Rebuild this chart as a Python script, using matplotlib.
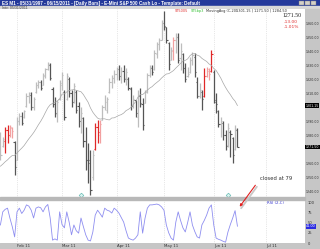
import matplotlib
matplotlib.use('Agg')
import matplotlib.pyplot as plt
import numpy as np
import pandas as pd
from matplotlib.patches import Rectangle, FancyArrowPatch
from matplotlib.transforms import blended_transform_factory

# ES-M1 daily bars, 20 Jan 2011 .. 15 Jun 2011
opens = [1280, 1272, 1276, 1284, 1280, 1285, 1275, 1262, 1290, 1294,
         1293, 1301, 1308, 1309, 1300, 1311, 1316, 1318, 1316, 1322,
         1327, 1330, 1313, 1302, 1295, 1306, 1316, 1311, 1306, 1320,
         1310, 1304, 1311, 1301, 1290, 1292, 1276, 1262, 1262, 1250,
         1270, 1286, 1280, 1291, 1300, 1298, 1311, 1318, 1321, 1324,
         1327, 1322, 1326, 1321, 1320, 1313, 1301, 1305, 1293, 1308,
         1302, 1303, 1311, 1323, 1328, 1327, 1338, 1345, 1348, 1360,
         1357, 1346, 1334, 1340, 1348, 1350, 1335, 1338, 1328, 1322,
         1325, 1334, 1336, 1318, 1308, 1311, 1308, 1322, 1326, 1326,
         1325, 1305, 1297, 1288, 1289, 1280, 1273, 1282, 1278, 1270,
         1284]
highs = [1282.2, 1278.6, 1285.8, 1287.2, 1287.2, 1285.8, 1276.0, 1293.0, 1295.8, 1296.5,
         1297.9, 1310.1, 1310.8, 1310.8, 1307.2, 1317.9, 1319.4, 1319.4, 1324.4, 1327.9,
         1332.2, 1331.5, 1314.4, 1307.2, 1305.1, 1319.4, 1325.1, 1312.2, 1324.4, 1321.5,
         1312.2, 1317.2, 1312.2, 1303.6, 1300.1, 1292.9, 1285.8, 1274.4, 1269.4, 1269.4,
         1288.6, 1290.8, 1290.8, 1301.5, 1308.6, 1307.2, 1320.8, 1322.9, 1326.5, 1328.6,
         1330.1, 1328.6, 1330.1, 1327.9, 1321.5, 1314.4, 1308.6, 1305.1, 1312.2, 1313.6,
         1306.5, 1312.2, 1324.4, 1330.1, 1330.1, 1340.8, 1346.5, 1349.4, 1362.2, 1368.5,
         1357.2, 1346.5, 1342.9, 1350.1, 1352.9, 1352.9, 1345.8, 1338.6, 1331.5, 1328.6,
         1335.8, 1339.4, 1338.6, 1321.5, 1317.2, 1312.2, 1327.9, 1328.6, 1327.9, 1340.8,
         1326.5, 1310.1, 1297.9, 1292.9, 1290.0, 1283.6, 1288.6, 1283.6, 1278.6, 1287.2,
         1285.0]
lows = [1262.2, 1271.5, 1267.2, 1274.4, 1278.6, 1277.9, 1251.5, 1262.0, 1287.2, 1287.2,
        1292.2, 1300.1, 1302.9, 1297.9, 1297.9, 1310.1, 1313.6, 1312.2, 1315.8, 1320.8,
        1326.5, 1319.4, 1300.1, 1292.9, 1289.4, 1305.1, 1312.2, 1290.8, 1305.1, 1307.2,
        1300.1, 1302.9, 1295.8, 1285.8, 1281.5, 1271.5, 1255.1, 1245.8, 1237.0, 1247.9,
        1269.4, 1274.4, 1274.4, 1290.8, 1297.9, 1295.8, 1310.1, 1313.6, 1317.2, 1319.4,
        1319.4, 1317.2, 1317.9, 1315.8, 1312.2, 1297.9, 1299.4, 1292.9, 1285.8, 1300.1,
        1283.6, 1302.9, 1310.1, 1321.5, 1322.9, 1326.5, 1335.1, 1340.8, 1347.9, 1355.1,
        1345.8, 1326.5, 1333.6, 1333.6, 1338.6, 1331.5, 1326.5, 1324.4, 1317.9, 1321.5,
        1324.4, 1330.1, 1321.5, 1306.5, 1306.5, 1297.9, 1307.2, 1321.5, 1319.4, 1325.1,
        1302.9, 1295.8, 1285.8, 1278.6, 1276.5, 1269.4, 1271.5, 1264.4, 1260.1, 1269.4,
        1271.5]
closes = [1266, 1277, 1284, 1280, 1286, 1283, 1257, 1290, 1294, 1289,
          1297, 1308, 1310, 1300, 1306, 1316, 1318, 1314, 1323, 1327,
          1331, 1321, 1302, 1296, 1304, 1317, 1323, 1293, 1322, 1310,
          1304, 1315, 1298, 1290, 1296, 1276, 1262, 1260, 1241, 1266,
          1286, 1282, 1288, 1300, 1304, 1306, 1318, 1321, 1324, 1327,
          1322, 1326, 1320, 1325, 1314, 1301, 1306, 1296, 1309, 1303,
          1287, 1311, 1323, 1329, 1325, 1339, 1345, 1348, 1360, 1358,
          1348, 1331, 1341, 1348, 1350, 1334, 1340, 1328, 1320, 1324,
          1334, 1337, 1325, 1308, 1312, 1306, 1322, 1327, 1324, 1338,
          1304, 1302, 1288, 1290, 1280, 1272, 1285, 1281, 1266, 1284.5,
          1271.5]
# closes before the first drawn bar, only used to seed the 20-day average
warmup_closes = [1248, 1250, 1253, 1251, 1255, 1257, 1254, 1258, 1256, 1260,
                 1259, 1262, 1258, 1261, 1263, 1260, 1262, 1264, 1259]

# lower study
osc_values = [44, 76, 82, 85, 61, 40, 15, 76, 85, 72,
              80, 93, 90, 80, 61, 85, 88, 86, 76, 88,
              94, 61, 7, 10, 7, 76, 45, 37, 76, 51,
              20, 44, 30, 24, 61, 40, 20, 7, 5, 27,
              68, 80, 72, 63, 85, 80, 78, 73, 85, 80,
              73, 62, 51, 30, 12, 9, 7, 12, 20, 76,
              24, 60, 85, 93, 93, 94, 95, 93, 88, 80,
              44, 25, 12, 7, 51, 76, 55, 37, 27, 50,
              76, 44, 28, 15, 12, 44, 55, 68, 85, 93,
              44, 12, 9, 7, 4, 2, 27, 45, 61, 79,
              41]

red_bars = [2, 3, 40, 41, 86, 89]
pink_bars = [4, 5, 42, 73, 87, 88]
event_bars = [34, 96]
month_idx = [7, 26, 49, 69, 90, 112]
month_labels = ['Feb 11', 'Mar 11', 'Apr 11', 'May 11', 'Jun 11', 'Jul 11']
price_ticks = list(range(1240, 1370, 10))
osc_ticks = [0, 25, 50, 75, 100]

W, H = 320, 249
fig = plt.figure(figsize=(W / 100, H / 100), dpi=100)
fig.patch.set_facecolor('white')


def fx(px):
    return px / W


def fy(py):
    return 1 - py / H


def box(x0, y0, x1, y1, **kw):
    fig.add_artist(Rectangle((fx(x0), fy(y1)), fx(x1) - fx(x0), fy(y0) - fy(y1),
                             transform=fig.transFigure, **kw))


# window chrome
box(0, 0, 320, 6, color='#24399b', zorder=-1)
box(0, 6, 320, 9, color='#d8d8d8', zorder=-1)
box(305, 9, 320, 249, color='#c6c6c6', zorder=-1)
box(0, 243, 320, 249, color='#c6c6c6', zorder=-1)
for bx in (299, 305, 311):
    box(bx, 0.6, bx + 5, 5.4, facecolor='#d4d0c8', edgecolor='#808080', linewidth=0.3)
fig.text(fx(2), fy(3), 'ES M1 - 05/31/1997 - 06/15/2011 - [Daily Bars] - E-Mini S&P 500 Cash Lo - Template: Default',
         fontsize=3.3, color='white', fontweight='bold', va='center', family='Liberation Sans')
fig.text(fx(2), fy(7.6), 'Intv: 05/31/2011', fontsize=2.6, color='#404040', va='center', family='Liberation Sans')

# price panel
ax = fig.add_axes([0, fy(197), fx(305), fy(9) - fy(197)])
idx = np.arange(len(closes))
prev = [warmup_closes[-1]] + closes[:-1]
cols = []
for i, c in enumerate(closes):
    if i in red_bars:
        cols.append('#e02828')
    elif i in pink_bars:
        cols.append('#f2a0a0')
    elif c >= prev[i]:
        cols.append('#bdbdbd')
    else:
        cols.append('#555555')

ax.vlines(idx, lows, highs, colors=cols, linewidth=0.9)
ax.hlines(opens, idx - 0.5, idx, colors=cols, linewidth=0.8)
ax.hlines(closes, idx, idx + 0.5, colors=cols, linewidth=0.8)

ma = pd.Series(warmup_closes + closes).rolling(20).mean().iloc[len(warmup_closes):].values
ax.plot(idx, ma, color='#a6a6a6', linewidth=0.5)

trans_ev = blended_transform_factory(ax.transData, ax.transAxes)
ax.plot(event_bars, [0.012] * len(event_bars), linestyle='none', marker='D', markersize=2.4,
        markerfacecolor='#d8f4f0', markeredgecolor='#50b0a8', markeredgewidth=0.4,
        transform=trans_ev, clip_on=False)

ax.set_xlim(-0.17, 128.5)
ax.set_ylim(1235.8, 1370.1)
ax.set_xticks(month_idx)
ax.grid(axis='x', color='#d0d0d0', linestyle=':', linewidth=0.5)
ax.yaxis.tick_right()
# the black value boxes take the place of any scale label they would cover
box_vals = [ma[-1], closes[-1]]
shown_ticks = [v for v in price_ticks if all(abs(v - b) > 4.5 for b in box_vals)]
ax.set_yticks(shown_ticks)
ax.set_yticklabels([f'{v:.2f}' for v in shown_ticks])
ax.tick_params(axis='x', length=0, labelbottom=False)
ax.tick_params(axis='y', length=0, pad=0.8, labelsize=2.35, labelcolor='#303030')
for s in ax.spines.values():
    s.set_visible(False)

trans_y = blended_transform_factory(ax.transAxes, ax.transData)
for val in box_vals:
    ax.text(1.002, val, f'{val:.2f}', transform=trans_y, fontsize=2.35, color='white',
            va='center', ha='left', clip_on=False,
            bbox=dict(facecolor='black', edgecolor='none', pad=0.3))

# study header and last-price readout
fig.text(fx(175), fy(11), 'ST5005', fontsize=2.5, color='#e03030', va='center')
fig.text(fx(191), fy(11), 'ST5bp3', fontsize=2.5, color='#30c030', va='center')
fig.text(fx(206), fy(11), 'MovingAvg (C,20)', fontsize=2.5, color='#303030', va='center')
fig.text(fx(236), fy(11), f'{ma[-1]:.2f} | {closes[-1]:.2f} | {closes[-2]:.2f}',
         fontsize=2.5, color='#303030', va='center')
chg = closes[-1] - closes[-2]
fig.text(fx(283), fy(15.5), f'{closes[-1]:.2f}', fontsize=4.2, color='#202020',
         va='center', family='Liberation Serif')
fig.text(fx(284), fy(22), f'{chg:.2f}', fontsize=3.2, color='#e03030', va='center')
fig.text(fx(284), fy(27.5), f'{chg / closes[-2] * 100:.2f}%', fontsize=3.2, color='#e03030', va='center')

# divider
box(0, 197, 305, 199.5, color='#b8b8b8')

# oscillator panel
ax2 = fig.add_axes([0, fy(243), fx(305), fy(200) - fy(243)])
ax2.plot(idx, osc_values, color='#8e8ef0', linewidth=0.6)
ax2.set_xlim(-0.17, 128.5)
ax2.set_ylim(0, 104.9)
ax2.set_xticks(month_idx)
ax2.set_xticklabels(month_labels, ha='left')
ax2.grid(axis='x', color='#d0d0d0', linestyle=':', linewidth=0.5)
ax2.yaxis.tick_right()
ax2.set_yticks(osc_ticks)
ax2.tick_params(axis='x', length=0, pad=0.8, labelsize=2.8, labelcolor='#303030')
ax2.tick_params(axis='y', length=0, pad=2, labelsize=2.6, labelcolor='#303030')
for s in ax2.spines.values():
    s.set_visible(False)
ax2.text(267 / 305, 0.97, 'RSI (2,C)', transform=ax2.transAxes, fontsize=2.8,
         color='#3434d0', va='top', ha='left')
ax2.text(1.004, osc_values[-1], f'{osc_values[-1]:.2f}',
         transform=blended_transform_factory(ax2.transAxes, ax2.transData),
         fontsize=2.4, color='white', va='center', ha='left', clip_on=False,
         bbox=dict(facecolor='#2a2ae0', edgecolor='none', pad=0.3))

# hand-drawn note
fig.text(fx(260), fy(178), 'closed at 79', fontsize=3.8, color='#303030', va='center')
fig.add_artist(FancyArrowPatch((fx(258.5), fy(184.5)), (fx(239.5), fy(210.5)),
                               transform=fig.transFigure, arrowstyle='-',
                               color='#c8c8c8', linewidth=1.3))
fig.add_artist(FancyArrowPatch((fx(257), fy(183)), (fx(238), fy(209)),
                               transform=fig.transFigure, arrowstyle='-|>',
                               mutation_scale=3.5, color='#e02020', linewidth=0.8))

fig.savefig('out.png', dpi=100)
